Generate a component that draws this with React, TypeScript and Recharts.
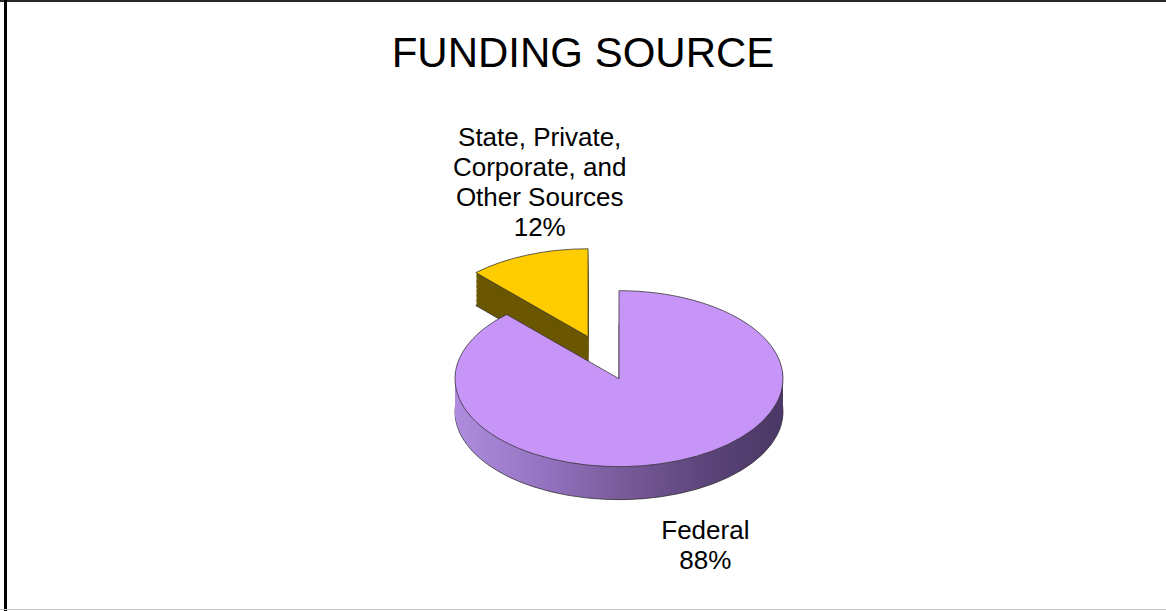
import React from "react";
import { PieChart, Pie, Cell } from "recharts";

// ---- data ----
const categories = ["State, Private, Corporate, and Other Sources", "Federal"];
const values = [12, 88];
const labelLines = [["State, Private,", "Corporate, and", "Other Sources"], ["Federal"]];
const title = "FUNDING SOURCE";
const topColors = ["#ffcc00", "#c794f7"];
const sideColors = ["#6b5700", "url(#purpleSide)"];
const exploded = [true, false];

const data = categories.map((name, i) => ({ name, value: values[i] }));

// ---- geometry / style ----
const W = 1166;
const H = 611;
const CX = 614;
const CY = 376;
const RX = 164;
const SCALE = 88 / 164;
const THICK = 33;
const EXPLODE = 84;
const START = 90;
const END = 450;
const LAYERS = 26;
const LINE = 30;
const FONT = "'Liberation Sans', Arial, sans-serif";

const total = values.reduce((a, b) => a + b, 0);
const midAngles = values.map((v, i) => {
  const before = values.slice(0, i).reduce((a, b) => a + b, 0);
  return START + ((before + v / 2) / total) * (END - START);
});

const CYU = CY / SCALE;
const HU = H / SCALE;

const renderLabel = (props: any) => {
  const { cx, cy, midAngle, index, value } = props;
  const rad = (midAngle * Math.PI) / 180;
  const ex = exploded[index] ? EXPLODE : 0;
  const ox = cx + ex * Math.cos(rad);
  const oy = cy - ex * SCALE * Math.sin(rad);
  const upper = Math.sin(rad) > 0;
  const edgeX = ox + RX * Math.cos(rad);
  const edgeY = oy - RX * SCALE * Math.sin(rad) + (upper ? 0 : THICK);
  const lines = [...labelLines[index], `${value}%`];
  const x = edgeX + (upper ? 12 : 26);
  const first = upper ? edgeY - 21 - (lines.length - 1) * LINE : edgeY + 43;
  return (
    <text key={`lbl${index}`} x={x} y={first} textAnchor="middle" fill="#000" fontSize={26} fontFamily={FONT}>
      {lines.map((l, k) => (
        <tspan key={k} x={x} y={first + k * LINE}>
          {l}
        </tspan>
      ))}
    </text>
  );
};

export default function App() {
  const pies: React.ReactNode[] = [];
  [0, 1].forEach((i) => {
    const rad = (midAngles[i] * Math.PI) / 180;
    const ex = exploded[i] ? EXPLODE : 0;
    const pcx = CX + ex * Math.cos(rad);
    const pcy = CYU - ex * Math.sin(rad);
    for (let k = LAYERS; k >= 1; k--) {
      const d = ((THICK / SCALE) * k) / LAYERS;
      const bottom = k === LAYERS;
      pies.push(
        <Pie
          key={`side-${i}-${k}`}
          data={data}
          dataKey="value"
          cx={pcx}
          cy={pcy + d}
          outerRadius={RX}
          startAngle={START}
          endAngle={END}
          isAnimationActive={false}
          label={false}
          labelLine={false}
        >
          {data.map((_, j) => (
            <Cell
              key={j}
              fill={j === i ? sideColors[i] : "none"}
              stroke={j === i && bottom ? "#2b2b2b" : "none"}
              strokeWidth={1}
              vectorEffect="non-scaling-stroke"
            />
          ))}
        </Pie>
      );
    }
    pies.push(
      <Pie
        key={`top-${i}`}
        data={data}
        dataKey="value"
        cx={pcx}
        cy={pcy}
        outerRadius={RX}
        startAngle={START}
        endAngle={END}
        isAnimationActive={false}
        label={false}
        labelLine={false}
      >
        {data.map((_, j) => (
          <Cell
            key={j}
            fill={j === i ? topColors[i] : "none"}
            stroke={j === i ? "#333333" : "none"}
            strokeWidth={1}
            vectorEffect="non-scaling-stroke"
          />
        ))}
      </Pie>
    );
  });

  return (
    <div style={{ position: "absolute", left: 0, top: 0, width: W, height: H, background: "#fff", overflow: "hidden" }}>
      <div style={{ position: "absolute", left: 0, top: 0, width: W, height: 2, background: "#2a2a2a" }} />
      <div style={{ position: "absolute", left: 4, top: 0, width: 3, height: H, background: "#000" }} />
      <div style={{ position: "absolute", left: 0, top: H - 2, width: W, height: 1, background: "#c8c8c8" }} />
      <div
        style={{
          position: "absolute",
          left: 0,
          top: 0,
          width: W,
          height: HU,
          transform: `scaleY(${SCALE})`,
          transformOrigin: "0 0",
        }}
      >
        <PieChart width={W} height={HU}>
          <defs>
            <linearGradient id="purpleSide" gradientUnits="userSpaceOnUse" x1={CX - RX} y1={0} x2={CX + RX} y2={0}>
              <stop offset="0%" stopColor="#b18ee0" />
              <stop offset="30%" stopColor="#9272bf" />
              <stop offset="55%" stopColor="#765896" />
              <stop offset="80%" stopColor="#5a4378" />
              <stop offset="100%" stopColor="#4b3866" />
            </linearGradient>
          </defs>
          {pies}
        </PieChart>
      </div>
      <div style={{ position: "absolute", left: 0, top: 0, width: W, height: H }}>
        <PieChart width={W} height={H}>
          <text x={583} y={67} textAnchor="middle" fontSize={42} fontFamily={FONT} fill="#000">
            {title}
          </text>
          <Pie
            data={data}
            dataKey="value"
            cx={CX}
            cy={CY}
            outerRadius={RX}
            startAngle={START}
            endAngle={END}
            isAnimationActive={false}
            label={renderLabel}
            labelLine={false}
          >
            {data.map((_, j) => (
              <Cell key={j} fill="none" stroke="none" />
            ))}
          </Pie>
        </PieChart>
      </div>
    </div>
  );
}
